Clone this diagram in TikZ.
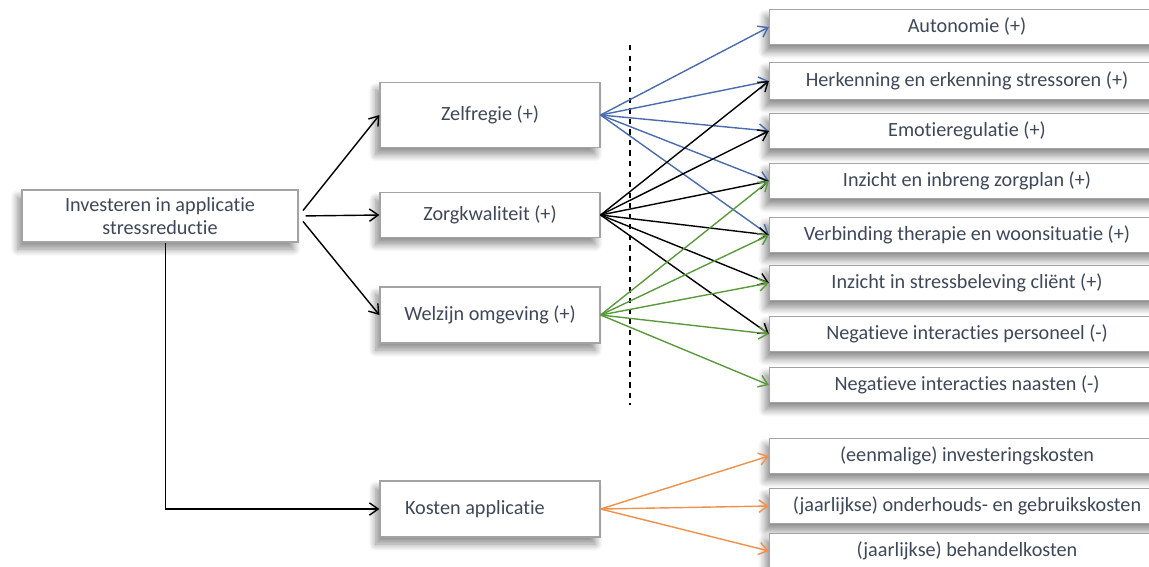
\documentclass[tikz,border=0pt]{standalone}
\usepackage{fontspec}
\setmainfont{Carlito}[Ligatures=NoCommon]
\usepackage{xcolor}
\usepackage{tikz}
\usetikzlibrary{arrows.meta,shadows.blur}

\definecolor{boxline}{HTML}{A3A3A3}
\definecolor{boxtext}{HTML}{3E4859}
\definecolor{linkblue}{HTML}{4A6BAE}
\definecolor{linkgreen}{HTML}{5B9A3C}
\definecolor{linkorange}{HTML}{F0904A}

\begin{document}
\begin{tikzpicture}
            [
            x=0.02cm, y=-0.02cm,
            >={Straight Barb[length=5pt,width=7pt]},
            box/.style={draw=boxline,fill=white,text=boxtext,line width=0.7pt,
                font=\fontsize{11.5}{13.5}\selectfont,
                blur shadow={shadow xshift=-2.5pt,shadow yshift=-4pt,shadow blur steps=10,shadow blur radius=4pt,shadow opacity=45}},
            lbox/.style={box,minimum width=4.4cm},
            rbox/.style={box,minimum width=7.9cm,minimum height=0.71cm,inner sep=1pt},
            edge/.style={->,line width=0.8pt},
            blueedge/.style={edge,linkblue},
            greenedge/.style={edge,linkgreen},
            orangeedge/.style={edge,linkorange}
            ]
        \useasboundingbox (0,0) rectangle (1149,566);
        \clip (0,0) rectangle (1149,566);
        % left side
        \node[box,minimum width=5.52cm,minimum height=1.04cm,align=center] (inv) at (160,216) {Investeren in applicatie\\stressreductie};
        \node[lbox,minimum height=1.3cm] (zelf) at (490,115) {Zelfregie (+)};
        \node[lbox,minimum height=0.9cm] (zorg) at (490,215) {Zorgkwaliteit (+)};
        \node[lbox,minimum height=1.12cm] (welz) at (490,315) {Welzijn omgeving (+)};
        \node[lbox,minimum height=1.12cm,text width=3.4cm,inner xsep=0.5cm,align=flush left] (kost) at (490,509) {Kosten applicatie};
        % right side
        \node[rbox] (auto) at (967,27) {Autonomie (+)};
        \node[rbox,minimum height=0.75cm] (herk) at (967,81) {Herkenning en erkenning stressoren (+)};
        \node[rbox] (emot) at (967,131) {Emotieregulatie (+)};
        \node[rbox] (plan) at (967,181) {Inzicht en inbreng zorgplan (+)};
        \node[rbox] (verb) at (967,235) {Verbinding therapie en woonsituatie (+)};
        \node[rbox] (stre) at (967,283) {Inzicht in stressbeleving cliënt (+)};
        \node[rbox] (pers) at (967,334) {Negatieve interacties personeel (-)};
        \node[rbox] (naas) at (967,385) {Negatieve interacties naasten (-)};
        \node[rbox] (eenm) at (967,456) {(eenmalige) investeringskosten};
        \node[rbox] (onde) at (967,506) {(jaarlijkse) onderhouds- en gebruikskosten};
        \node[rbox] (beha) at (967,551) {(jaarlijkse) behandelkosten};
        % dashed divider
        \coordinate (dtop) at (630,45);
        \coordinate (dbot) at (630,405);
        \draw[dashed,line width=0.8pt] (dtop) -- (dbot);
        % from investeren
        \draw[edge,shorten <=4pt] (inv.east) -- (zelf.west);
        \draw[edge,shorten <=4pt] (inv.east) -- (zorg.west);
        \draw[edge,shorten <=4pt] (inv.east) -- (welz.west);
        \draw[edge] ([xshift=3pt]inv.south) |- (kost.west);
        % zelfregie
        \draw[blueedge] (zelf.east) -- (auto.west);
        \draw[blueedge] (zelf.east) -- (herk.west);
        \draw[blueedge] (zelf.east) -- (emot.west);
        \draw[blueedge] (zelf.east) -- (plan.west);
        \draw[blueedge] (zelf.east) -- (verb.west);
        % zorgkwaliteit
        \draw[edge] (zorg.east) -- (herk.west);
        \draw[edge] (zorg.east) -- (emot.west);
        \draw[edge] (zorg.east) -- (plan.west);
        \draw[edge] (zorg.east) -- (verb.west);
        \draw[edge] (zorg.east) -- (stre.west);
        \draw[edge] (zorg.east) -- (pers.west);
        % welzijn omgeving
        \draw[greenedge] (welz.east) -- (plan.west);
        \draw[greenedge] (welz.east) -- (verb.west);
        \draw[greenedge] (welz.east) -- (stre.west);
        \draw[greenedge] (welz.east) -- (pers.west);
        \draw[greenedge] (welz.east) -- (naas.west);
        % kosten
        \draw[orangeedge] (kost.east) -- (eenm.west);
        \draw[orangeedge] (kost.east) -- (onde.west);
        \draw[orangeedge] (kost.east) -- (beha.west);
        \end{tikzpicture}
\end{document}
